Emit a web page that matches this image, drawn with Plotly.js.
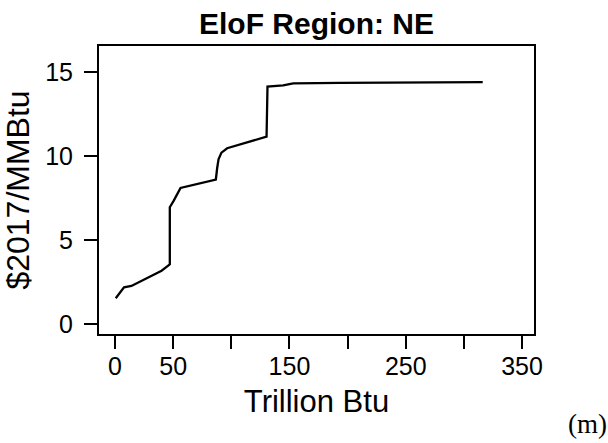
<!DOCTYPE html>
<html>
<head>
<meta charset="utf-8">
<script src="https://cdn.plot.ly/plotly-3.0.1.min.js"></script>
<style>html,body{margin:0;padding:0;background:#fff;}#chart{width:608px;height:443px;}</style>
</head>
<body>
<div id="chart"></div>
<script>
// Supply curve data
const quantity = [0.6, 7.7, 14.1, 40.0, 46.5, 47.1, 47.1, 50.5, 56.3, 86.7, 87.8, 89.0, 91.5, 96.4, 130.3, 131.1, 144.6, 153.2, 193.4, 275.0, 316.2];
const price    = [1.53, 2.18, 2.26, 3.17, 3.51, 3.55, 6.95, 7.34, 8.10, 8.60, 9.27, 9.80, 10.20, 10.46, 11.15, 14.13, 14.20, 14.33, 14.35, 14.40, 14.40];
const xTickVals = [0, 50, 100, 150, 200, 250, 300, 350];
const xTickText = ["0", "50", "", "150", "", "250", "", "350"];
const yTickVals = [0, 5, 10, 15];
const yTickText = ["0", "5", "10", "15"];
const chartTitle = "EloF Region: NE";
const xTitle = "Trillion Btu";
const yTitle = "$2017/MMBtu";
const panelLabel = "(m)";

const sans = "Liberation Sans, Arial, sans-serif";
const trace = {
  x: quantity, y: price, type: "scatter", mode: "lines",
  line: {color: "#000", width: 2.3}, hoverinfo: "skip", showlegend: false
};
const axisCommon = {
  showline: true, mirror: true, linecolor: "#000", linewidth: 2,
  ticks: "outside", ticklen: 13, tickwidth: 2, tickcolor: "#000",
  showgrid: false, zeroline: false, tickmode: "array",
  tickfont: {family: sans, size: 25, color: "#000"}
};
const layout = {
  width: 608, height: 443,
  margin: {l: 99, r: 74, t: 46, b: 109},
  paper_bgcolor: "#fff", plot_bgcolor: "#fff",
  title: {
    text: chartTitle, x: 0.5, xref: "paper", y: 1.078, yref: "paper", yanchor: "middle",
    font: {family: sans, size: 30, color: "#000", weight: "bold"}
  },
  xaxis: Object.assign({}, axisCommon, {
    range: [-13.8, 360.3], tickvals: xTickVals, ticktext: xTickText,
    ticklabelstandoff: -4,
    title: {text: xTitle, standoff: 11, font: {family: sans, size: 31, color: "#000"}}
  }),
  yaxis: Object.assign({}, axisCommon, {
    range: [-0.6, 16.55], tickvals: yTickVals, ticktext: yTickText,
    ticklabelstandoff: 6,
    title: {text: yTitle, standoff: 6, font: {family: sans, size: 32, color: "#000"}}
  }),
  annotations: [{
    text: panelLabel, xref: "paper", yref: "paper",
    x: 1.172, y: -0.372, xanchor: "right", yanchor: "bottom", showarrow: false,
    font: {family: "Liberation Serif, Times New Roman, serif", size: 27, color: "#000"}
  }]
};
Plotly.newPlot("chart", [trace], layout, {staticPlot: true, displayModeBar: false});
</script>
</body>
</html>
